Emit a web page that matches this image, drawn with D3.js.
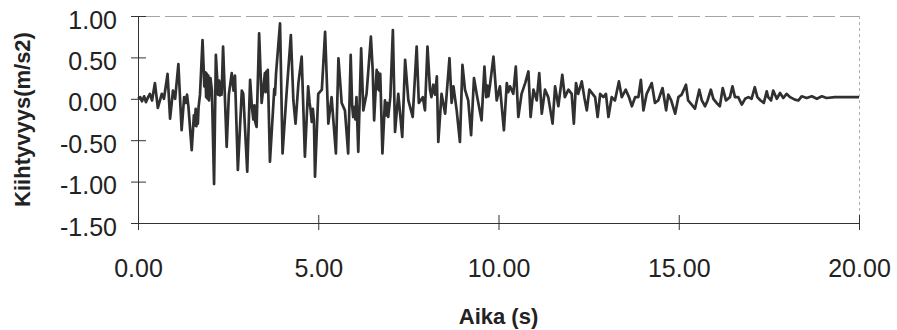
<!DOCTYPE html>
<html>
<head>
<meta charset="utf-8">
<script src="https://cdn.jsdelivr.net/npm/d3@7"></script>
<style>
  body { margin: 0; background: #fff; }
  svg text { font-family: "Liberation Sans", Arial, sans-serif; fill: #222; }
</style>
</head>
<body>
<div id="chart"></div>
<script>
// time (s) and acceleration (m/s2)
var aika = [
  0.00, 0.06, 0.11, 0.17, 0.22, 0.28, 0.33, 0.39, 0.47, 0.55, 0.66, 0.72, 0.82, 0.89, 0.97, 1.03,
  1.12, 1.21, 1.28, 1.32, 1.36, 1.40, 1.49, 1.55, 1.57, 1.60, 1.62, 1.64, 1.66, 1.68, 1.72, 1.79,
  1.84, 1.87, 1.89, 1.91, 1.93, 1.95, 1.97, 2.01, 2.05, 2.11, 2.16, 2.22, 2.25, 2.27, 2.30, 2.32,
  2.36, 2.46, 2.52, 2.60, 2.65, 2.69, 2.77, 2.88, 2.92, 3.03, 3.11, 3.16, 3.20, 3.23, 3.25, 3.29,
  3.36, 3.43, 3.52, 3.54, 3.56, 3.58, 3.60, 3.66, 3.75, 3.78, 3.80, 3.83, 3.94, 4.01, 4.12, 4.24,
  4.31, 4.37, 4.45, 4.54, 4.63, 4.72, 4.76, 4.79, 4.82, 4.85, 4.88, 4.91, 5.00, 5.10, 5.19, 5.28,
  5.37, 5.49, 5.56, 5.65, 5.74, 5.83, 5.90, 5.94, 5.97, 6.00, 6.03, 6.06, 6.11, 6.19, 6.25, 6.34,
  6.46, 6.51, 6.55, 6.62, 6.64, 6.66, 6.69, 6.72, 6.78, 6.85, 6.88, 6.91, 6.94, 7.00, 7.07, 7.13,
  7.22, 7.33, 7.41, 7.50, 7.62, 7.73, 7.79, 7.90, 7.96, 8.03, 8.10, 8.14, 8.19, 8.24, 8.29, 8.33,
  8.42, 8.52, 8.64, 8.70, 8.75, 8.84, 8.93, 9.00, 9.07, 9.16, 9.24, 9.32, 9.41, 9.53, 9.61, 9.66,
  9.69, 9.72, 9.76, 9.86, 9.95, 10.04, 10.15, 10.23, 10.27, 10.32, 10.41, 10.48, 10.55, 10.64, 10.74, 10.83,
  10.89, 10.97, 11.06, 11.13, 11.20, 11.29, 11.38, 11.50, 11.57, 11.66, 11.77, 11.84, 11.94, 12.03, 12.09, 12.15,
  12.21, 12.31, 12.38, 12.45, 12.52, 12.61, 12.68, 12.75, 12.82, 12.91, 12.98, 13.05, 13.14, 13.23, 13.34, 13.42,
  13.53, 13.62, 13.70, 13.79, 13.88, 13.95, 14.02, 14.11, 14.25, 14.34, 14.43, 14.55, 14.65, 14.71, 14.79, 14.90,
  14.99, 15.08, 15.20, 15.26, 15.36, 15.45, 15.57, 15.64, 15.73, 15.80, 15.89, 15.96, 16.05, 16.14, 16.22, 16.31,
  16.42, 16.49, 16.56, 16.65, 16.75, 16.84, 16.93, 17.02, 17.11, 17.18, 17.27, 17.36, 17.44, 17.48, 17.56, 17.62,
  17.72, 17.81, 17.90, 17.99, 18.09, 18.22, 18.32, 18.41, 18.55, 18.69, 18.83, 18.97, 19.10, 19.33, 19.57, 20.00
];

var kiihtyvyys = [
  0.00, 0.02, -0.03, 0.03, -0.04, 0.02, 0.06, -0.02, 0.19, -0.11, 0.06, 0.00, 0.30, -0.24, 0.10, 0.00,
  0.42, -0.38, 0.02, -0.05, 0.05, -0.10, -0.62, -0.20, -0.32, -0.12, -0.33, -0.15, -0.30, -0.10, 0.05, 0.71,
  0.15, 0.32, 0.02, 0.30, 0.00, 0.28, -0.02, 0.25, 0.10, -1.03, 0.53, 0.05, 0.22, 0.04, 0.20, 0.05,
  0.63, -0.58, 0.05, 0.31, 0.10, 0.28, -0.86, 0.10, 0.06, -0.88, 0.23, -0.10, -0.25, -0.08, -0.28, -0.34,
  0.79, -0.05, 0.31, 0.08, 0.33, 0.10, 0.35, -0.76, -0.10, 0.12, 0.05, 0.31, 0.91, -0.66, 0.06, 0.77,
  -0.02, -0.30, 0.19, 0.51, -0.70, 0.15, -0.05, -0.14, -0.28, -0.12, -0.26, -0.94, 0.06, 0.11, 0.81, -0.30,
  0.02, -0.66, 0.49, -0.05, -0.14, -0.66, 0.53, -0.08, -0.22, -0.10, -0.25, 0.02, -0.64, 0.61, -0.14, 0.06,
  0.75, 0.35, -0.26, 0.35, 0.12, 0.32, 0.10, 0.30, -0.66, -0.02, -0.20, -0.05, -0.22, 0.02, 0.83, -0.40,
  0.06, -0.46, 0.47, -0.02, -0.22, 0.63, -0.05, 0.02, -0.14, 0.63, 0.11, 0.02, 0.17, 0.05, 0.27, -0.52,
  0.06, -0.18, 0.49, -0.05, 0.15, -0.14, -0.52, 0.41, 0.11, -0.02, -0.44, 0.25, 0.02, -0.26, 0.39, 0.02,
  0.16, 0.03, 0.15, 0.51, -0.02, 0.15, -0.38, 0.19, 0.08, 0.15, 0.06, 0.39, -0.22, 0.06, 0.19, 0.33,
  -0.22, 0.11, -0.02, 0.31, -0.18, 0.11, 0.02, -0.30, 0.15, -0.09, 0.29, 0.02, 0.11, 0.06, -0.30, 0.19,
  0.06, 0.21, 0.02, -0.14, 0.11, 0.06, 0.02, -0.22, 0.06, 0.02, 0.06, -0.22, 0.02, -0.02, 0.21, 0.02,
  0.11, 0.02, -0.09, 0.02, 0.02, 0.23, -0.14, 0.06, 0.19, -0.05, -0.02, 0.13, -0.14, 0.05, -0.02, -0.18,
  0.02, 0.05, 0.17, -0.02, -0.07, -0.12, 0.11, -0.02, -0.09, -0.02, 0.11, 0.00, -0.05, -0.09, 0.13, -0.02,
  0.02, 0.15, 0.02, 0.02, -0.07, 0.00, 0.02, 0.00, 0.14, 0.02, -0.02, -0.05, 0.09, 0.02, -0.02, 0.10,
  0.00, 0.07, 0.01, 0.06, 0.02, -0.01, -0.02, 0.03, 0.01, 0.03, 0.00, 0.03, 0.01, 0.02, 0.02, 0.02
];

var xTicks = [0, 5, 10, 15, 20];
var yTicks = [-1.5, -1.0, -0.5, 0.0, 0.5, 1.0];
var xTitle = "Aika (s)";
var yTitle = "Kiihtyvyys(m/s2)";

var svgWidth = 897;
var svgHeight = 330;
var margin = { top: 16, right: 38, bottom: 107, left: 138 };
var width = svgWidth - margin.left - margin.right;
var height = svgHeight - margin.top - margin.bottom;

var svg = d3.select("#chart")
  .append("svg")
  .attr("width", svgWidth)
  .attr("height", svgHeight);

var chartGroup = svg.append("g")
  .attr("transform", `translate(${margin.left}, ${margin.top})`);

var xScale = d3.scaleLinear().domain([0, 20]).range([0, width]);
var yScale = d3.scaleLinear().domain([-1.5, 1]).range([height, 0]);

var points = aika.map(function(t, i) {
  return { t: t, a: kiihtyvyys[i] };
});

// top and right frame (faint, as in the scan)
chartGroup.append("line")
  .attr("x1", 0).attr("x2", width)
  .attr("y1", 0.5).attr("y2", 0.5)
  .attr("stroke", "#a5a5a5")
  .attr("stroke-dasharray", "22,5");
chartGroup.append("line")
  .attr("x1", width + 0.5).attr("x2", width + 0.5)
  .attr("y1", 0).attr("y2", height)
  .attr("stroke", "#b0b0b0")
  .attr("stroke-dasharray", "3,3");

// the signal
var line = d3.line()
  .x(d => xScale(d.t))
  .y(d => yScale(d.a));

chartGroup.append("path")
  .datum(points)
  .attr("fill", "none")
  .attr("stroke", "#303030")
  .attr("stroke-width", 2.7)
  .attr("stroke-linejoin", "round")
  .attr("d", line);

// y axis
var leftAxis = d3.axisLeft(yScale)
  .tickValues(yTicks)
  .tickFormat(d => d.toFixed(2))
  .tickSize(7)
  .tickSizeOuter(0)
  .tickPadding(14);

var yAxis = chartGroup.append("g").call(leftAxis);
yAxis.attr("font-size", 25);
yAxis.select(".domain").attr("stroke", "#333");
yAxis.selectAll(".tick line").attr("x1", 8).attr("stroke", "#333");
yAxis.selectAll(".tick text").attr("dy", 12);

// x axis
var bottomAxis = d3.axisBottom(xScale)
  .tickValues(xTicks)
  .tickFormat(d => d.toFixed(2))
  .tickSize(7)
  .tickSizeOuter(0);

var xAxis = chartGroup.append("g")
  .attr("transform", `translate(0, ${height})`)
  .call(bottomAxis);
xAxis.attr("font-size", 25);
xAxis.select(".domain").attr("stroke", "#333");
xAxis.selectAll(".tick line").attr("y1", -8).attr("stroke", "#333");
xAxis.selectAll(".tick text").attr("y", 54).attr("dy", 0);

// axis titles
svg.append("text")
  .attr("x", margin.left + width / 2)
  .attr("y", 324)
  .attr("text-anchor", "middle")
  .attr("font-size", 22)
  .attr("font-weight", "bold")
  .text(xTitle);

svg.append("text")
  .attr("transform", `translate(30, ${margin.top + height / 2}) rotate(-90)`)
  .attr("text-anchor", "middle")
  .attr("font-size", 22)
  .attr("font-weight", "bold")
  .text(yTitle);
</script>
</body>
</html>
